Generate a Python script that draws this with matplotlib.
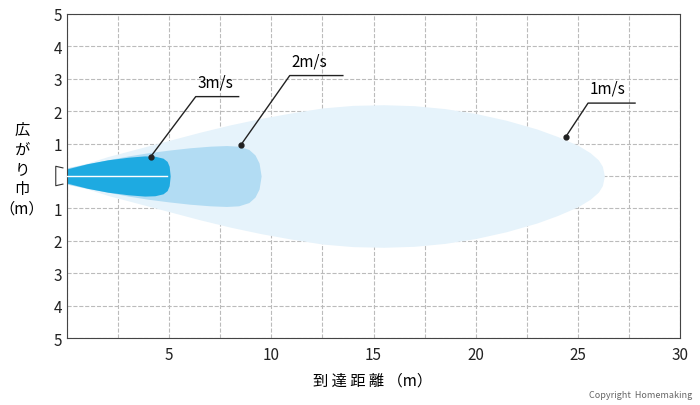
import matplotlib
matplotlib.use("Agg")
import matplotlib.pyplot as plt
import numpy as np

plt.rcParams['font.family'] = ['Noto Sans CJK JP', 'DejaVu Sans']

# half-width profiles (m) of each air-speed zone
x1 = [0, 1, 2, 3.5, 5, 6.5, 8, 9.5, 11, 12.5, 14, 15.5, 17, 18.5, 20, 21.5, 23, 24, 25, 25.6, 26, 26.2, 26.3]
w1 = [0.25, 0.4, 0.6, 0.85, 1.1, 1.35, 1.58, 1.78, 1.95, 2.1, 2.18, 2.2, 2.17, 2.08, 1.93, 1.72, 1.45, 1.22, 0.95, 0.72, 0.5, 0.3, 0.0]
x2 = [0, 1, 2, 3, 4, 5, 6, 7, 7.8, 8.4, 8.9, 9.2, 9.4, 9.5]
w2 = [0.25, 0.38, 0.5, 0.62, 0.72, 0.8, 0.87, 0.92, 0.94, 0.92, 0.82, 0.65, 0.4, 0.0]
x3 = [0, 1, 2, 3, 3.8, 4.3, 4.7, 4.9, 5.0, 5.05]
w3 = [0.22, 0.38, 0.5, 0.58, 0.62, 0.61, 0.55, 0.45, 0.3, 0.0]
labels = ["1m/s", "2m/s", "3m/s"]
dots = [(24.4, 1.2), (8.5, 0.95), (4.1, 0.6)]
elbows = [(25.5, 2.25), (10.9, 3.1), (6.3, 2.45)]
ends = [27.8, 13.5, 8.4]
yticks = [-5, -4, -3, -2, -1, 0, 1, 2, 3, 4, 5]
yticklabels = ["5", "4", "3", "2", "1", "", "1", "2", "3", "4", "5"]

fig = plt.figure(figsize=(7, 4.06), dpi=100)
ax = fig.add_axes([67/700, 1-339/406, 613/700, 324/406])
ax.set_xlim(0, 30)
ax.set_ylim(-5, 5)
for x, w, c in [(x1, w1, '#e6f3fb'), (x2, w2, '#b2dcf3'), (x3, w3, '#1eaae1')]:
    x = np.array(x); w = np.array(w)
    ax.fill_between(x, -w, w, color=c, lw=0, zorder=2)
ax.plot([0, 4.9], [0, 0], color='white', lw=1, zorder=3)
for lab, d, e, end in zip(labels, dots, elbows, ends):
    ax.plot(*d, 'o', color='#222', ms=3.5, zorder=5)
    ax.plot([d[0], e[0], end], [d[1], e[1], e[1]], color='#222', lw=1, zorder=5)
    ax.text(e[0] + 0.1, e[1] + 0.2, lab, fontsize=11, ha='left', va='bottom', zorder=5)
ax.set_xticks([5, 10, 15, 20, 25, 30])
ax.set_xticks(np.arange(0, 30.1, 2.5), minor=True)
ax.set_yticks(yticks)
ax.set_yticklabels(yticklabels)
ax.grid(True, which='both', axis='x', ls='--', color='#bbbbbb', lw=0.8, zorder=0)
ax.grid(True, axis='y', ls='--', color='#bbbbbb', lw=0.8, zorder=0)
ax.tick_params(which='both', length=0, labelsize=11, colors='#222')
ax.tick_params(axis='x', pad=6)
for s in ax.spines.values():
    s.set_color('#444'); s.set_linewidth(0.8)
# nozzle
ax.plot([-0.2, -0.55, -0.55, -0.2], [0.25, 0.3, -0.3, -0.25], color='#333', lw=0.8, clip_on=False)
fig.text(22/700, 1-170/406, "広\nが\nり\n巾\n（m）", fontsize=11, ha='center', va='center', linespacing=1.2)
fig.text(373/700, 1-381/406, "到 達 距 離 （m）", fontsize=11, ha='center', va='center')
fig.text(692/700, 1-396/406, "Copyright  Homemaking", fontsize=6.5, color='#666', ha='right', va='center')
fig.savefig("out.png", dpi=100)
